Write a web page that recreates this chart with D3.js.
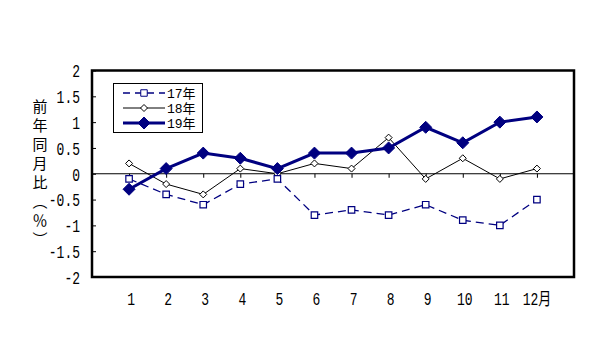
<!DOCTYPE html>
<html><head><meta charset="utf-8">
<script src="https://cdn.jsdelivr.net/npm/d3@7"></script>
<style>body{margin:0;background:#fff}svg{display:block}</style>
</head><body>
<svg id="c" width="610" height="363"></svg>
<script>
const months = [1,2,3,4,5,6,7,8,9,10,11,12];
const monthLabels = ["1","2","3","4","5","6","7","8","9","10","11","12月"];
const s17 = [-0.1,-0.4,-0.6,-0.2,-0.1,-0.8,-0.7,-0.8,-0.6,-0.9,-1.0,-0.5];
const s18 = [0.2,-0.2,-0.4,0.1,0.0,0.2,0.1,0.7,-0.1,0.3,-0.1,0.1];
const s19 = [-0.3,0.1,0.4,0.3,0.1,0.4,0.4,0.5,0.9,0.6,1.0,1.1];
const yTicks = [2,1.5,1,0.5,0,-0.5,-1,-1.5,-2];
const seriesNames = ["17年","18年","19年"];
const yTitle = "前年同月比（％）";

const svg = d3.select("#c");
const L=92,R=574,T=70.5,B=277;
const x = d3.scaleLinear().domain([0,13]).range([L,R]);
const y = d3.scaleLinear().domain([-2,2]).range([B,T]);
const navy="#000080";
const numFont = "'Liberation Mono', monospace";
const cjkFont = "'Noto Sans CJK JP', sans-serif";

// y axis ticks (inward) and labels
const yAxis = d3.axisRight(y).tickValues(yTicks).tickSize(4).tickFormat(d=>d);
const gy = svg.append("g").attr("transform",`translate(${L},0)`).call(yAxis);
gy.select(".domain").remove();
gy.selectAll("line").attr("stroke","#000");
gy.selectAll("text").attr("x",-12).attr("text-anchor","end").attr("dy","0.36em")
  .attr("transform","scale(1,1.35)")
  .attr("font-family",numFont).attr("font-size",13).attr("fill","#000");

// zero line with category ticks
svg.append("line").attr("x1",L).attr("x2",R).attr("y1",y(0)).attr("y2",y(0)).attr("stroke","#000").attr("stroke-width",1);
const xAxis = d3.axisBottom(x).tickValues(months).tickSize(4).tickFormat("");
const gx = svg.append("g").attr("transform",`translate(0,${y(0)})`).call(xAxis);
gx.select(".domain").remove();
gx.selectAll("line").attr("stroke","#000");

// x labels at bottom
svg.append("g").selectAll("g").data(months).join("g")
  .attr("transform",(d,i)=>`translate(${x(d)+(i===11?0:2)},305) scale(1,1.35)`)
  .append("text").attr("text-anchor","middle")
  .attr("font-family",numFont+", "+cjkFont).attr("font-size",13)
  .text((d,i)=>monthLabels[i]);

// border
svg.append("rect").attr("x",L).attr("y",T).attr("width",R-L).attr("height",B-T)
  .attr("fill","none").attr("stroke","#000").attr("stroke-width",2.5);

// y title (vertical)
svg.append("text").attr("x",40).attr("y",99)
  .style("writing-mode","vertical-rl").attr("font-family",cjkFont).attr("font-size",15)
  .attr("letter-spacing",4).text(yTitle);

const line = d3.line().x((d,i)=>x(months[i])).y(d=>y(d));
const sq = d3.symbol().type(d3.symbolSquare).size(42);
const diamondPath = (r)=>`M0,${-r}L${r},0L0,${r}L${-r},0Z`;

// 18
svg.append("path").attr("d",line(s18)).attr("fill","none").attr("stroke","#000").attr("stroke-width",1);
svg.append("g").selectAll("path").data(s18).join("path")
  .attr("transform",(d,i)=>`translate(${x(months[i])},${y(d)})`)
  .attr("d",diamondPath(3.5)).attr("fill","#fff").attr("stroke","#000").attr("stroke-width",1);
// 17
svg.append("path").attr("d",line(s17)).attr("fill","none").attr("stroke",navy).attr("stroke-width",1.3).attr("stroke-dasharray","8,5");
svg.append("g").selectAll("path").data(s17).join("path")
  .attr("transform",(d,i)=>`translate(${x(months[i])},${y(d)})`)
  .attr("d",sq()).attr("fill","#fff").attr("stroke",navy).attr("stroke-width",1.2);
// 19
svg.append("path").attr("d",line(s19)).attr("fill","none").attr("stroke",navy).attr("stroke-width",3);
svg.append("g").selectAll("path").data(s19).join("path")
  .attr("transform",(d,i)=>`translate(${x(months[i])},${y(d)})`)
  .attr("d",diamondPath(6)).attr("fill",navy).attr("stroke",navy);

// legend
const lg = svg.append("g");
lg.append("rect").attr("x",113.5).attr("y",83.5).attr("width",89).attr("height",49).attr("fill","#fff").attr("stroke","#000").attr("stroke-width",1);
const ly=[93,108,123];
const styles=[
  {stroke:navy,w:1.3,dash:"7,5",mark:sq(),fill:"#fff",ms:navy},
  {stroke:"#000",w:1,dash:null,mark:diamondPath(3.5),fill:"#fff",ms:"#000"},
  {stroke:navy,w:3,dash:null,mark:diamondPath(6),fill:navy,ms:navy}];
seriesNames.forEach((n,i)=>{
  const s=styles[i];
  lg.append("line").attr("x1",123).attr("x2",165).attr("y1",ly[i]).attr("y2",ly[i])
    .attr("stroke",s.stroke).attr("stroke-width",s.w).attr("stroke-dasharray",s.dash);
  lg.append("path").attr("transform",`translate(144,${ly[i]})`).attr("d",s.mark).attr("fill",s.fill).attr("stroke",s.ms);
  lg.append("text").attr("x",167).attr("y",ly[i]).attr("dy","0.38em").attr("font-family",numFont+", "+cjkFont).attr("font-size",13).text(n);
});
</script>
</body></html>
